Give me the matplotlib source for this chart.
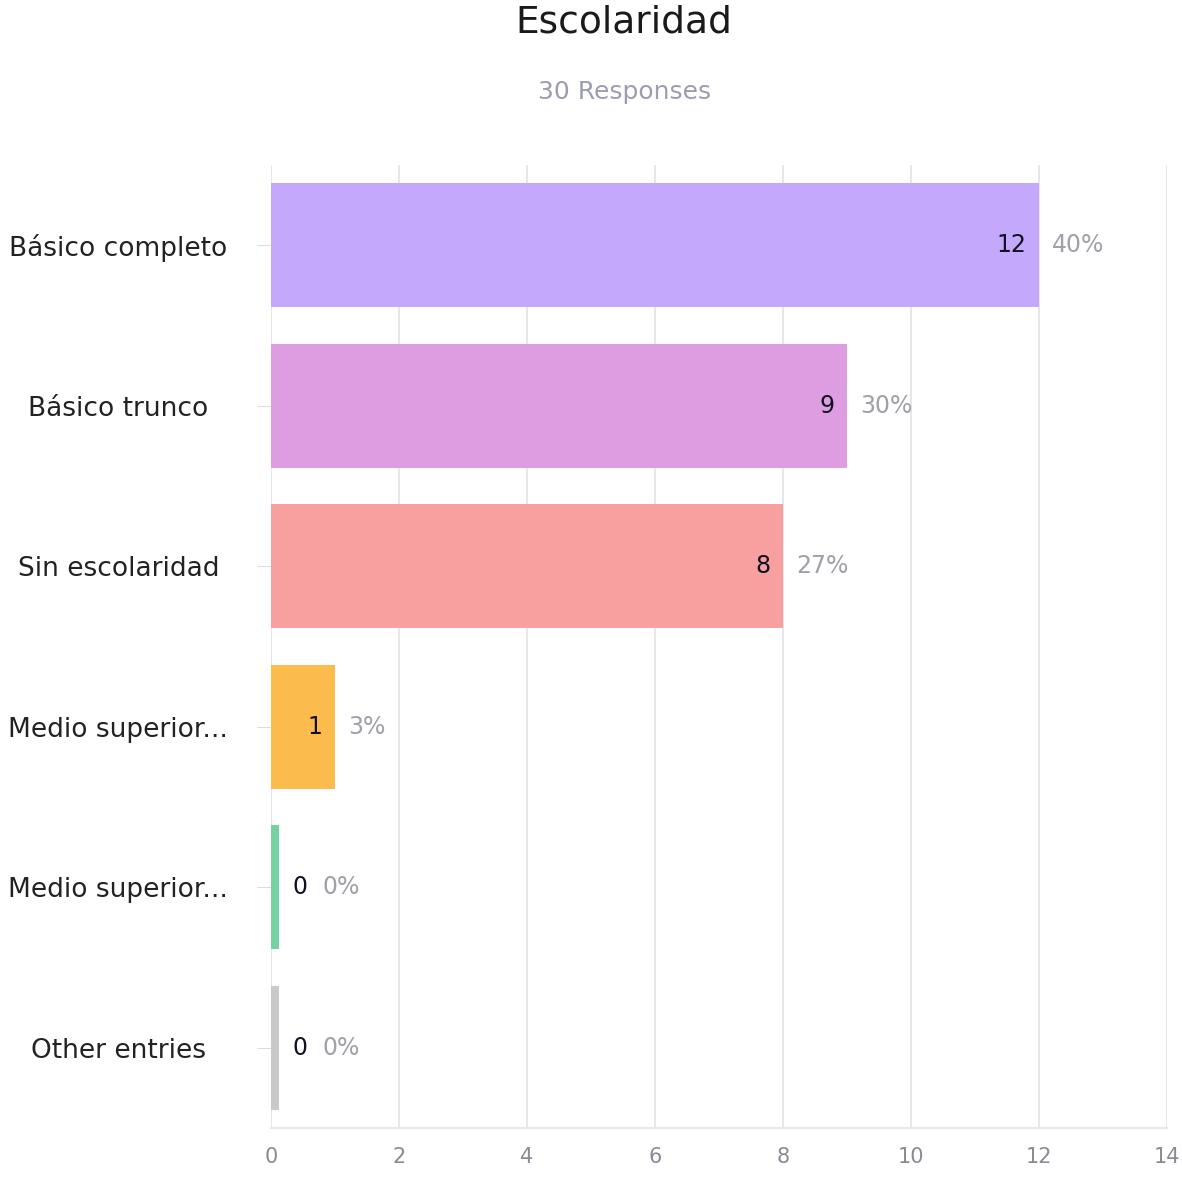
import matplotlib.pyplot as plt

# data
categories = ["Básico completo", "Básico trunco", "Sin escolaridad",
              "Medio superior...", "Medio superior...", "Other entries"]
counts = [12, 9, 8, 1, 0, 0]
percents = ["40%", "30%", "27%", "3%", "0%", "0%"]
total = 30
colors = ["#c4a8fb", "#de9de0", "#f8a0a0", "#fbbc4d", "#74d3a0", "#c9c9cb"]

plt.rcParams['font.family'] = ['DejaVu Sans']

fig = plt.figure(figsize=(11.82, 11.78), dpi=100)
ax = fig.add_axes([0.2293, 0.0424, 0.758, 0.8176])

y = list(range(len(categories)))
# zero-count bars still get a thin sliver like the original
widths = [c if c > 0 else 0.12 for c in counts]
ax.barh(y, widths, height=0.77, color=colors, zorder=3)

for i, (c, p) in enumerate(zip(counts, percents)):
    if c > 0:
        ax.text(c - 0.2, i, str(c), ha="right", va="center", fontsize=17,
                fontweight="medium", color="#111122", zorder=4)
        ax.text(c + 0.2, i, p, ha="left", va="center", fontsize=17,
                color="#a0a0a8", zorder=4)
    else:
        ax.text(0.33, i, str(c), ha="left", va="center", fontsize=17,
                fontweight="medium", color="#111122", zorder=4)
        ax.text(0.8, i, p, ha="left", va="center", fontsize=17,
                color="#a0a0a8", zorder=4)

ax.set_xlim(0, 14)
ax.set_ylim(5.5, -0.5)
ax.set_xticks(range(0, 15, 2))
ax.set_yticks(y)
ax.set_yticklabels(categories, fontsize=19, color="#222222")
ax.tick_params(axis="y", length=10, color="#dddddd")
ax.tick_params(axis="x", length=0, labelsize=15, labelcolor="#8a8a94", pad=14)
for lbl in ax.get_yticklabels():
    lbl.set_horizontalalignment("center")
ax.yaxis.set_tick_params(pad=100)

ax.grid(axis="x", color="#e2e2e8", linewidth=1.2, zorder=0)
for s in ["top", "right", "left"]:
    ax.spines[s].set_visible(False)
ax.spines["bottom"].set_color("#e6e6ec")
ax.spines["bottom"].set_linewidth(1.5)

fig.text(0.528, 0.981, "Escolaridad", ha="center", va="center",
         fontsize=27, color="#1a1a1a")
fig.text(0.528, 0.922, f"{total} Responses", ha="center", va="center",
         fontsize=18, color="#9d9db0")

fig.savefig("out.png", dpi=100, facecolor="white")
